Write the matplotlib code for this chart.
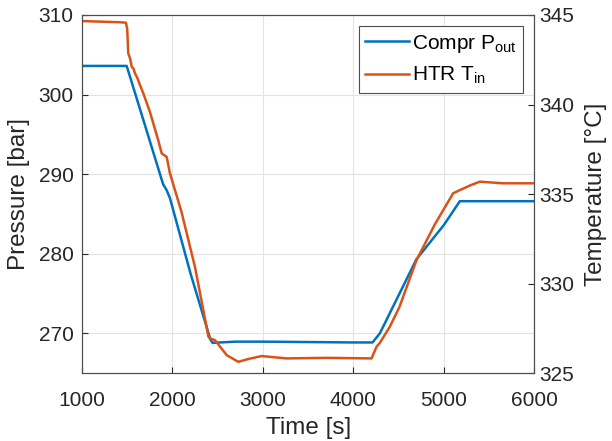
import matplotlib.pyplot as plt

plt.rcParams['font.family'] = ['Liberation Sans', 'DejaVu Sans']
plt.rcParams['mathtext.default'] = 'regular'

# pressure at compressor outlet (left axis)
t_p = [1000, 1494, 1700, 1881, 1898, 1935, 1972, 2200, 2420, 2445, 2700, 3000,
       3500, 4000, 4212, 4293, 4697, 5000, 5177, 5500, 6000]
p_out = [303.6, 303.6, 296.0, 289.3, 288.7, 288.0, 287.0, 277.5, 269.2, 268.8,
         268.95, 268.95, 268.9, 268.85, 268.85, 270.0, 279.3, 283.6, 286.6,
         286.6, 286.6]

# temperature at HTR inlet (right axis)
t_t = [1000, 1200, 1400, 1486, 1500, 1511, 1530, 1550, 1570, 1585, 1610, 1640,
       1677, 1750, 1843, 1881, 1900, 1936, 1972, 2100, 2250, 2398, 2414, 2470,
       2600, 2727, 2850, 2986, 3262, 3700, 4201, 4256, 4293, 4403, 4510, 4697,
       4900, 5103, 5177, 5300, 5398, 5655, 6000]
t_in = [344.66, 344.63, 344.6, 344.57, 344.2, 342.86, 342.6, 342.1, 342.0,
        341.74, 341.5, 341.1, 340.63, 339.6, 338.0, 337.27, 337.2, 337.08,
        336.16, 334.0, 330.9, 327.03, 326.94, 326.84, 326.0, 325.63, 325.8,
        325.95, 325.82, 325.85, 325.82, 326.47, 326.69, 327.59, 328.7, 331.3,
        333.3, 335.04, 335.22, 335.5, 335.69, 335.6, 335.6]

blue = '#0072BD'
orange = '#D95319'
txt = '#262626'

fig = plt.figure(figsize=(6.12, 4.41), dpi=100)
ax = fig.add_axes([0.134, 0.154, 0.739, 0.812])
ax2 = ax.twinx()

l1, = ax.plot(t_p, p_out, color=blue, lw=1.8, label='Compr P$_{out}$')
l2, = ax2.plot(t_t, t_in, color=orange, lw=1.8, label='HTR T$_{in}$')

ax.set_xlim(1000, 6000)
ax.set_ylim(265, 310)
ax2.set_ylim(325, 345)
ax.set_xticks([1000, 2000, 3000, 4000, 5000, 6000])
ax.set_yticks([270, 280, 290, 300, 310])
ax2.set_yticks([325, 330, 335, 340, 345])

ax.grid(True, color='#e3e3e3', lw=0.8)
ax.set_axisbelow(True)

ax.tick_params(direction='in', labelsize=15, colors=txt, length=4)
ax.tick_params(axis='x', pad=13)
ax.tick_params(axis='y', pad=6)
ax2.tick_params(direction='in', labelsize=15, colors=txt, length=4)
for a in (ax, ax2):
    for s in a.spines.values():
        s.set_color('#4d4d4d')
        s.set_linewidth(0.8)

ax.set_xlabel('Time [s]', fontsize=17.5, color=txt, labelpad=5)
ax.set_ylabel('Pressure [bar]', fontsize=17.5, color=txt, labelpad=6)
ax2.set_ylabel('Temperature [°C]', fontsize=17.5, color=txt, labelpad=8)

leg = ax2.legend(handles=[l1, l2], loc='upper right', fontsize=15,
                 fancybox=False, framealpha=1, edgecolor='#4d4d4d',
                 handlelength=2.1, handletextpad=0.15, borderaxespad=0.55,
                 labelspacing=0.5, borderpad=0.3)
leg.get_frame().set_linewidth(0.8)

plt.savefig('out.png', dpi=100)
